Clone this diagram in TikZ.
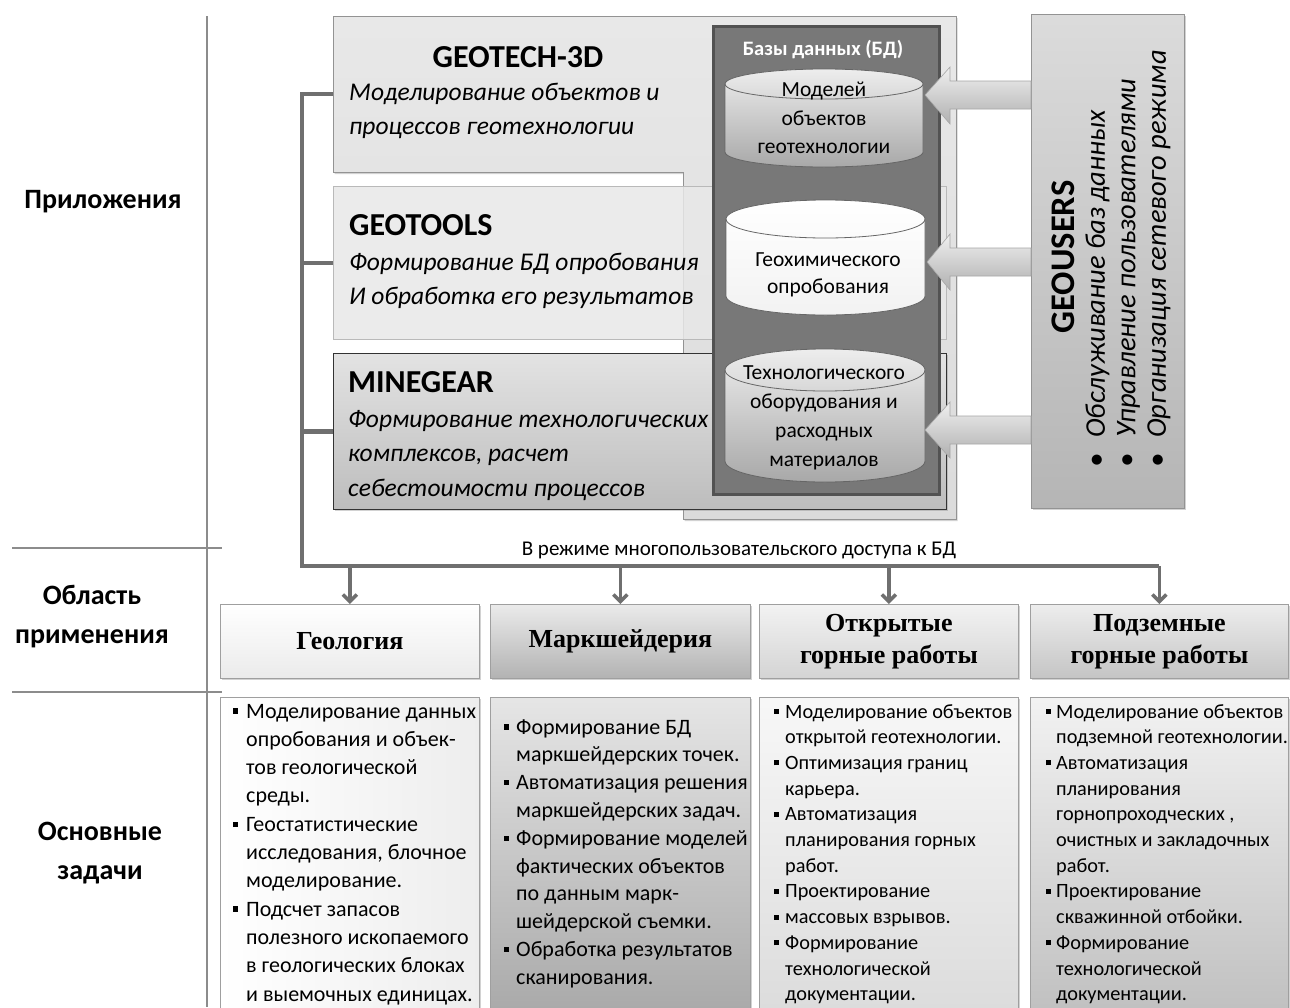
\documentclass[tikz,border=0pt]{standalone}
\usepackage{fontspec}
\setmainfont{Carlito}
\newfontfamily\hdrfont{Liberation Serif}
\usetikzlibrary{arrows.meta,shadows}
\definecolor{conncol}{HTML}{6F6F6F}
\definecolor{divcol}{HTML}{8C8C8C}
\newlength\bulw
\newcommand\bsq{\rule[0.2em]{0.24em}{0.24em}}
\newcommand\bi{\makebox[\bulw][l]{\bsq}}
\newcommand\ci{\hspace*{\bulw}}
\newcommand\dbcyl[6]{%
  \pgfmathsetmacro\cylrx{(#3-#1)/2}%
  \path[#6] (#1,#2+#5) -- (#1,#4-#5) arc[start angle=180,end angle=360,x radius=\cylrx pt,y radius=#5pt] -- (#3,#2+#5) arc[start angle=0,end angle=180,x radius=\cylrx pt,y radius=#5pt] -- cycle;
  \draw[cylline] (#1,#2+#5) arc[start angle=180,end angle=360,x radius=\cylrx pt,y radius=#5pt];
}
\begin{document}
\begin{tikzpicture}[x=1pt,y=-1pt,
 divline/.style={draw=divcol,line width=1.2pt},
 lbl/.style={font=\bfseries\fontsize{28}{39}\selectfont,align=center,inner sep=0},
 ttl/.style={font=\bfseries\fontsize{32}{36}\selectfont,inner sep=0},
 desc/.style={font=\itshape\fontsize{25.5}{34.5}\selectfont,inner sep=0,anchor=base west},
 shd/.style={drop shadow={shadow xshift=1.5pt,shadow yshift=-2pt,opacity=0.35}},
 conn/.style={draw=conncol,line width=4.5pt},
 arr/.style={draw=conncol,line width=3.5pt,-{Straight Barb[length=7pt,width=14pt]}},
 cylline/.style={draw=black!60,line width=0.8pt},
 cyltxt/.style={align=center,inner sep=0},
 blk/.style={draw=gray!70,line width=0.6pt,top color=gray!12,bottom color=gray!62},
 hbox/.style={draw=gray!75,line width=0.8pt,minimum height=74pt,anchor=north west,inner sep=0,align=center,font=\hdrfont\bfseries\fontsize{26}{32}\selectfont,shd},
 lbox/.style={draw=gray!75,line width=0.8pt,minimum height=320pt,anchor=north west,inner sep=0,shd},
 ltxt/.style={anchor=base west,inner sep=0}]
\useasboundingbox (0,0) rectangle (1290,1007);
\clip (0,0) rectangle (1290,1007);
\fill[white] (0,0) rectangle (1290,1007);

% left column
\draw[divline] (207,16) -- (207,1007);
\draw[divline] (12,548) -- (222,548);
\draw[divline] (12,692) -- (222,692);
\node[lbl] (lab1) at (103,202) {Приложения};
\node[lbl] (lab2) at (92,617) {Область\\применения};
\node[lbl] (lab3) at (100,853) {Основные\\задачи};

% application boxes
\path[draw=gray!85,line width=0.8pt,top color=gray!18,bottom color=gray!28,shd]
  (333,16) -- (956,16) -- (956,519) -- (683,519) -- (683,172) -- (333,172) -- cycle;
\node[inner sep=0,minimum width=623pt,minimum height=156pt,anchor=north west] (geotech) at (333,16) {};
\node[draw=gray!55,line width=0.8pt,fill=gray!18,fill opacity=0.85,minimum width=613pt,minimum height=153pt,anchor=north west,inner sep=0] (geotools) at (333,186) {};
\node[draw=black!80,line width=0.8pt,top color=gray!22,bottom color=gray!52,minimum width=613pt,minimum height=156pt,anchor=north west,inner sep=0,shd] (minegear) at (333,353) {};

\node[ttl,anchor=base] (tt1) at (518,67) {GEOTECH-3D};
\node[desc] (d1) at (349,100) {\parbox[t]{400pt}{Моделирование объектов и\\процессов геотехнологии}};
\node[ttl,anchor=base west] (tt2) at (349,235) {GEOTOOLS};
\node[desc] (d2) at (349,270) {\parbox[t]{400pt}{Формирование БД опробования\\И обработка его результатов}};
\node[ttl,anchor=base west] (tt3) at (348,392) {MINEGEAR};
\node[desc] (d3) at (348,427) {\parbox[t]{400pt}{Формирование технологических\\комплексов, расчет\\себестоимости процессов}};

% database panel
\node[draw=black!68,line width=3pt,fill=black!53,minimum width=226pt,minimum height=468pt,anchor=north west,inner sep=0] (dbpanel) at (712,25) {};
\node[font=\bfseries\fontsize{20.5}{24}\selectfont,text=white,inner sep=0] (dbtitle) at (823,50) {Базы данных (БД)};

\dbcyl{725}{69}{923}{167}{15}{draw=black!60,line width=0.8pt,top color=gray!14,bottom color=gray!68}
\dbcyl{726}{200}{925}{315}{19}{draw=black!60,line width=0.8pt,top color=white,bottom color=gray!10}
\dbcyl{725}{349}{925}{482}{21}{draw=black!60,line width=0.8pt,top color=gray!14,bottom color=gray!68}
\node[cyltxt,font=\fontsize{21.5}{28.5}\selectfont] (c1) at (824,118) {Моделей\\объектов\\геотехнологии};
\node[cyltxt,font=\fontsize{21.5}{27}\selectfont] (c2) at (828,275) {Геохимического\\опробования};
\node[cyltxt,font=\fontsize{21.5}{29}\selectfont] (c3) at (824,418) {Технологического\\оборудования и\\расходных\\материалов};

% GEOUSERS
\node[draw=gray!85,line width=0.8pt,top color=gray!28,bottom color=gray!58,minimum width=153pt,minimum height=494pt,anchor=north west,inner sep=0,shd] (geousers) at (1031,14) {};
\node[rotate=90,font=\bfseries\fontsize{34.5}{36}\selectfont,inner sep=0] (gut) at (1063,257) {GEOUSERS};
\node[rotate=90,anchor=west,align=left,inner sep=0,font=\itshape\fontsize{28.5}{30.5}\selectfont] (gul) at (1128,468)
 {\makebox[30pt][l]{\textbullet}Обслуживание баз данных\\\makebox[30pt][l]{\textbullet}Управление пользователями\\\makebox[30pt][l]{\textbullet}Организация сетевого режима};

% block arrows
\path[blk] (1031,81) -- (950,81) -- (950,67) -- (925,95) -- (950,124) -- (950,109) -- (1031,109) -- cycle;
\path[blk] (1031,248) -- (950,248) -- (950,234) -- (927,262) -- (950,290) -- (950,276) -- (1031,276) -- cycle;
\path[blk] (1031,416) -- (950,416) -- (950,402) -- (925,430) -- (950,458) -- (950,444) -- (1031,444) -- cycle;

% bottom boxes
\node[hbox,minimum width=259pt,top color=white,bottom color=gray!16] (hb1) at (220,604) {Геология};
\node[hbox,minimum width=260pt,top color=gray!16,bottom color=gray!60] (hb2) at (490,604) {Маркшейдерия};
\node[hbox,minimum width=259pt,top color=gray!10,bottom color=gray!34] (hb3) at (759,604) {Открытые\\горные работы};
\node[hbox,minimum width=258pt,top color=gray!14,bottom color=gray!46] (hb4) at (1030,604) {Подземные\\горные работы};

\node[lbox,minimum width=259pt,left color=white,right color=gray!14] (lb1) at (220,697) {};
\node[lbox,minimum width=260pt,top color=gray!20,bottom color=gray!68] (lb2) at (490,697) {};
\node[lbox,minimum width=259pt,top color=gray!6,bottom color=gray!28] (lb3) at (759,697) {};
\node[lbox,minimum width=258pt,top color=gray!10,bottom color=gray!50] (lb4) at (1030,697) {};

% connectors
\coordinate (busL) at (302,566);
\coordinate (busR) at (hb4.north |- busL);
\draw[conn] (geotech.west) -| (busL) -- (busR);
\draw[conn] (geotools.west) -- (geotools.west -| busL);
\draw[conn] (minegear.west) -- (minegear.west -| busL);
\draw[arr] (hb1.north |- busL) -- (hb1.north);
\draw[arr] (hb2.north |- busL) -- (hb2.north);
\draw[arr] (hb3.north |- busL) -- (hb3.north);
\draw[arr] (busR) -- (hb4.north);
\node[font=\fontsize{21}{24}\selectfont,inner sep=0] (bustxt) at (739,550) {В режиме многопользовательского доступа к БД};

% task lists
\node[ltxt,font=\fontsize{22}{28.3}\selectfont] (t1) at (233,718) {\setlength\bulw{13pt}\parbox[t]{300pt}{%
\bi Моделирование данных\\
\ci опробования и объек-\\
\ci тов геологической\\
\ci среды.\\
\bi Геостатистические\\
\ci исследования, блочное\\
\ci моделирование.\\
\bi Подсчет запасов\\
\ci полезного ископаемого\\
\ci в геологических блоках\\
\ci и выемочных единицах.}};
\node[ltxt,font=\fontsize{22}{27.8}\selectfont] (t2) at (504,734) {\setlength\bulw{12pt}\parbox[t]{300pt}{%
\bi Формирование БД\\
\ci маркшейдерских точек.\\
\bi Автоматизация решения\\
\ci маркшейдерских задач.\\
\bi Формирование моделей\\
\ci фактических объектов\\
\ci по данным марк-\\
\ci шейдерской съемки.\\
\bi Обработка результатов\\
\ci сканирования.}};
\node[ltxt,font=\fontsize{20.3}{25.7}\selectfont] (t3) at (774,718) {\setlength\bulw{11pt}\parbox[t]{300pt}{%
\bi Моделирование объектов\\
\ci открытой геотехнологии.\\
\bi Оптимизация границ\\
\ci карьера.\\
\bi Автоматизация\\
\ci планирования горных\\
\ci работ.\\
\bi Проектирование\\
\bi массовых взрывов.\\
\bi Формирование\\
\ci технологической\\
\ci документации.}};
\node[ltxt,font=\fontsize{20.3}{25.7}\selectfont] (t4) at (1046,718) {\setlength\bulw{10pt}\parbox[t]{300pt}{%
\bi Моделирование объектов\\
\ci подземной геотехнологии.\\
\bi Автоматизация\\
\ci планирования\\
\ci горнопроходческих ,\\
\ci очистных и закладочных\\
\ci работ.\\
\bi Проектирование\\
\ci скважинной отбойки.\\
\bi Формирование\\
\ci технологической\\
\ci документации.}};
\end{tikzpicture}
\end{document}
